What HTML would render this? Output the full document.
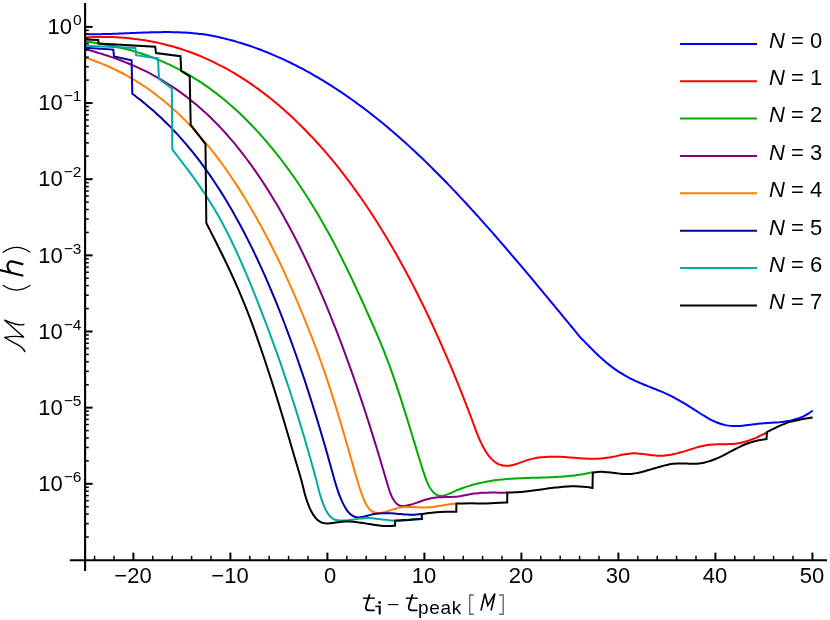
<!DOCTYPE html>
<html><head><meta charset="utf-8">
<style>
html,body{margin:0;padding:0;background:#fff;}
body{width:830px;height:620px;position:relative;overflow:hidden;font-family:"Liberation Sans",sans-serif;color:#000;}
svg{position:absolute;left:0;top:0;}
.yl,.xl,.lg,.pk{will-change:transform;}
.yl{position:absolute;left:0;width:81.5px;text-align:right;font-size:22px;line-height:24px;white-space:nowrap;}
.sup{font-size:15.5px;position:relative;top:-8.7px;margin-left:1px;line-height:0;}
.xl{position:absolute;top:564px;width:60px;text-align:center;font-size:22px;line-height:24px;white-space:nowrap;}
.lg{position:absolute;left:769px;font-size:22px;line-height:24px;white-space:nowrap;}
.pk{position:absolute;left:418px;top:596.5px;font-size:19px;line-height:22px;letter-spacing:0.7px;}
</style></head><body>
<svg width="830" height="620" viewBox="0 0 830 620">
<g fill="none" stroke-width="2" stroke-linejoin="miter" stroke-linecap="butt">
<path d="M85.00,34.10C85.67,34.11 87.67,34.16 89.00,34.17C90.33,34.19 91.67,34.20 93.00,34.20C94.33,34.21 95.67,34.20 97.00,34.19C98.33,34.18 99.67,34.17 101.00,34.15C102.33,34.13 103.67,34.10 105.00,34.07C106.33,34.04 107.67,34.01 109.00,33.97C110.33,33.93 111.67,33.89 113.00,33.84C114.33,33.80 115.67,33.75 117.00,33.70C118.33,33.65 119.67,33.60 121.00,33.54C122.33,33.49 123.67,33.43 125.00,33.37C126.33,33.32 127.67,33.26 129.00,33.20C130.33,33.14 131.67,33.08 133.00,33.03C134.33,32.97 135.67,32.91 137.00,32.85C138.33,32.80 139.67,32.74 141.00,32.69C142.33,32.64 143.67,32.59 145.00,32.54C146.33,32.49 147.67,32.44 149.00,32.40C150.33,32.36 151.67,32.32 153.00,32.28C154.33,32.25 155.67,32.22 157.00,32.19C158.33,32.17 159.67,32.14 161.00,32.13C162.33,32.11 163.67,32.10 165.00,32.10C166.33,32.09 167.67,32.10 169.00,32.11C170.33,32.11 171.67,32.13 173.00,32.15C174.33,32.18 175.67,32.21 177.00,32.25C178.33,32.29 179.67,32.34 181.00,32.39C182.33,32.45 183.67,32.52 185.00,32.59C186.33,32.67 187.67,32.75 189.00,32.85C190.33,32.94 191.67,33.05 193.00,33.17C194.33,33.29 195.67,33.41 197.00,33.56C198.33,33.70 199.17,33.77 201.00,34.01C202.83,34.26 206.17,34.71 208.00,35.00C209.83,35.29 210.67,35.50 212.00,35.76C213.33,36.02 214.67,36.30 216.00,36.58C217.33,36.86 218.67,37.16 220.00,37.46C221.33,37.76 222.67,38.08 224.00,38.40C225.33,38.73 226.67,39.06 228.00,39.40C229.33,39.75 230.67,40.10 232.00,40.46C233.33,40.83 234.67,41.20 236.00,41.59C237.33,41.97 238.67,42.36 240.00,42.77C241.33,43.17 242.67,43.58 244.00,44.01C245.33,44.43 246.67,44.86 248.00,45.31C249.33,45.75 250.67,46.20 252.00,46.67C253.33,47.13 254.67,47.60 256.00,48.08C257.33,48.57 258.67,49.06 260.00,49.56C261.33,50.06 262.67,50.58 264.00,51.10C265.33,51.62 266.67,52.15 268.00,52.69C269.33,53.24 270.67,53.79 272.00,54.35C273.33,54.91 274.67,55.48 276.00,56.06C277.33,56.64 278.67,57.23 280.00,57.84C281.33,58.44 282.67,59.05 284.00,59.67C285.33,60.29 286.67,60.92 288.00,61.56C289.33,62.20 290.67,62.85 292.00,63.51C293.33,64.17 294.67,64.83 296.00,65.51C297.33,66.19 298.67,66.88 300.00,67.58C301.33,68.28 302.67,68.98 304.00,69.70C305.33,70.42 306.67,71.15 308.00,71.88C309.33,72.62 310.67,73.37 312.00,74.12C313.33,74.88 314.67,75.65 316.00,76.42C317.33,77.20 318.67,77.98 320.00,78.78C321.33,79.57 322.67,80.38 324.00,81.19C325.33,82.01 326.67,82.83 328.00,83.67C329.33,84.50 330.67,85.34 332.00,86.20C333.33,87.05 334.67,87.91 336.00,88.78C337.33,89.65 338.67,90.54 340.00,91.43C341.33,92.32 342.67,93.22 344.00,94.13C345.33,95.04 346.67,95.96 348.00,96.89C349.33,97.82 350.67,98.76 352.00,99.71C353.33,100.66 354.67,101.61 356.00,102.58C357.33,103.55 358.67,104.53 360.00,105.51C361.33,106.50 362.67,107.50 364.00,108.50C365.33,109.51 366.67,110.52 368.00,111.55C369.33,112.57 370.67,113.61 372.00,114.65C373.33,115.69 374.67,116.75 376.00,117.81C377.33,118.87 378.67,119.94 380.00,121.02C381.33,122.11 382.67,123.20 384.00,124.30C385.33,125.40 386.67,126.51 388.00,127.63C389.33,128.75 390.67,129.87 392.00,131.01C393.33,132.15 394.67,133.30 396.00,134.45C397.33,135.61 398.67,136.78 400.00,137.95C401.33,139.13 402.67,140.31 404.00,141.51C405.33,142.70 406.67,143.90 408.00,145.12C409.33,146.33 410.67,147.55 412.00,148.78C413.33,150.02 414.67,151.26 416.00,152.51C417.33,153.76 418.67,155.02 420.00,156.29C421.33,157.55 422.67,158.83 424.00,160.12C425.33,161.40 426.67,162.70 428.00,164.00C429.33,165.31 430.67,166.62 432.00,167.94C433.33,169.26 434.67,170.59 436.00,171.93C437.33,173.26 438.67,174.61 440.00,175.96C441.33,177.31 442.67,178.67 444.00,180.04C445.33,181.41 446.67,182.79 448.00,184.17C449.33,185.55 450.67,186.94 452.00,188.34C453.33,189.74 454.67,191.15 456.00,192.56C457.33,193.97 458.67,195.39 460.00,196.81C461.33,198.24 462.67,199.67 464.00,201.11C465.33,202.55 466.67,204.00 468.00,205.45C469.33,206.90 470.67,208.36 472.00,209.82C473.33,211.28 474.67,212.75 476.00,214.23C477.33,215.71 478.67,217.19 480.00,218.67C481.33,220.16 482.67,221.65 484.00,223.15C485.33,224.65 486.67,226.15 488.00,227.66C489.33,229.17 490.67,230.68 492.00,232.20C493.33,233.72 494.67,235.24 496.00,236.77C497.33,238.30 498.67,239.83 500.00,241.37C501.33,242.90 502.67,244.44 504.00,245.99C505.33,247.53 506.67,249.08 508.00,250.64C509.33,252.19 510.67,253.75 512.00,255.31C513.33,256.87 514.67,258.43 516.00,260.00C517.33,261.57 518.67,263.14 520.00,264.71C521.33,266.29 522.67,267.87 524.00,269.45C525.33,271.03 526.67,272.61 528.00,274.20C529.33,275.78 530.67,277.37 532.00,278.97C533.33,280.56 534.67,282.15 536.00,283.75C537.33,285.35 538.67,286.94 540.00,288.55C541.33,290.15 542.67,291.75 544.00,293.35C545.33,294.96 546.67,296.57 548.00,298.17C549.33,299.78 550.67,301.39 552.00,303.00C553.33,304.61 554.67,306.23 556.00,307.84C557.33,309.45 558.67,311.07 560.00,312.69C561.33,314.30 562.67,315.92 564.00,317.54C565.33,319.15 566.67,320.77 568.00,322.39C569.33,324.01 570.67,325.63 572.00,327.25C573.33,328.86 574.62,330.42 576.00,332.10C577.38,333.78 578.92,335.78 580.30,337.32C581.68,338.87 582.97,340.02 584.30,341.39C585.63,342.76 586.97,344.16 588.30,345.52C589.63,346.88 590.97,348.23 592.30,349.55C593.63,350.87 594.97,352.18 596.30,353.46C597.63,354.73 598.97,355.99 600.30,357.20C601.63,358.42 602.97,359.61 604.30,360.76C605.63,361.91 606.97,363.03 608.30,364.10C609.63,365.18 610.97,366.21 612.30,367.20C613.63,368.19 614.97,369.14 616.30,370.06C617.63,370.98 618.97,371.85 620.30,372.70C621.63,373.55 622.97,374.35 624.30,375.13C625.63,375.91 626.97,376.65 628.30,377.37C629.63,378.09 630.97,378.77 632.30,379.44C633.63,380.10 634.97,380.73 636.30,381.34C637.63,381.95 638.97,382.54 640.30,383.11C641.63,383.68 642.97,384.23 644.30,384.78C645.63,385.33 646.97,385.86 648.30,386.39C649.63,386.92 650.97,387.44 652.30,387.97C653.63,388.50 654.97,389.02 656.30,389.55C657.63,390.09 658.97,390.63 660.30,391.18C661.63,391.74 662.97,392.30 664.30,392.88C665.63,393.47 666.97,394.07 668.30,394.70C669.63,395.32 670.97,395.97 672.30,396.65C673.63,397.33 674.97,398.04 676.30,398.77C677.63,399.50 678.97,400.26 680.30,401.03C681.63,401.81 682.97,402.60 684.30,403.41C685.63,404.21 686.97,405.04 688.30,405.87C689.63,406.70 690.97,407.54 692.30,408.39C693.63,409.23 694.97,410.09 696.30,410.93C697.63,411.78 698.97,412.64 700.30,413.48C701.63,414.31 702.97,415.15 704.30,415.95C705.63,416.75 706.97,417.54 708.30,418.29C709.63,419.03 710.97,419.75 712.30,420.41C713.63,421.08 714.97,421.70 716.30,422.26C717.63,422.82 718.97,423.33 720.30,423.77C721.63,424.20 722.97,424.57 724.30,424.88C725.63,425.19 726.97,425.43 728.30,425.62C729.63,425.80 730.97,425.93 732.30,426.00C733.63,426.08 734.97,426.09 736.30,426.07C737.63,426.05 738.97,425.97 740.30,425.88C741.63,425.78 742.97,425.64 744.30,425.50C745.63,425.35 746.97,425.18 748.30,425.00C749.63,424.83 750.97,424.64 752.30,424.46C753.63,424.29 754.97,424.10 756.30,423.95C757.63,423.79 758.97,423.65 760.30,423.52C761.63,423.40 762.97,423.30 764.30,423.21C765.63,423.11 766.97,423.04 768.30,422.96C769.63,422.88 770.97,422.81 772.30,422.73C773.63,422.64 774.97,422.56 776.30,422.46C777.63,422.36 778.97,422.26 780.30,422.12C781.63,421.99 782.97,421.84 784.30,421.66C785.63,421.48 786.97,421.27 788.30,421.02C789.63,420.77 790.97,420.49 792.30,420.16C793.63,419.83 794.97,419.46 796.30,419.04C797.63,418.61 798.97,418.14 800.30,417.59C801.63,417.05 802.97,416.46 804.30,415.79C805.63,415.12 806.90,414.43 808.30,413.57C809.70,412.70 811.97,411.09 812.70,410.60" stroke="#0000ff"/>
<path d="M85.00,37.43C85.67,37.40 87.67,37.28 89.00,37.22C90.33,37.16 91.67,37.11 93.00,37.07C94.33,37.02 95.67,36.99 97.00,36.96C98.33,36.94 99.67,36.92 101.00,36.92C102.33,36.91 103.67,36.91 105.00,36.93C106.33,36.94 107.67,36.96 109.00,36.99C110.33,37.03 111.67,37.07 113.00,37.12C114.33,37.17 115.67,37.23 117.00,37.30C118.33,37.37 119.67,37.45 121.00,37.54C122.33,37.63 123.67,37.73 125.00,37.85C126.33,37.96 127.67,38.08 129.00,38.21C130.33,38.34 131.67,38.49 133.00,38.64C134.33,38.79 135.67,38.96 137.00,39.13C138.33,39.31 139.67,39.49 141.00,39.69C142.33,39.88 143.67,40.09 145.00,40.31C146.33,40.53 147.67,40.76 149.00,41.00C150.33,41.24 151.67,41.49 153.00,41.75C154.33,42.01 155.67,42.29 157.00,42.57C158.33,42.86 159.67,43.16 161.00,43.47C162.33,43.78 163.67,44.10 165.00,44.43C166.33,44.76 167.67,45.11 169.00,45.47C170.33,45.82 171.67,46.19 173.00,46.57C174.33,46.95 175.67,47.35 177.00,47.75C178.33,48.16 179.67,48.58 181.00,49.01C182.33,49.44 183.67,49.88 185.00,50.33C186.33,50.79 187.67,51.26 189.00,51.74C190.33,52.22 191.67,52.71 193.00,53.22C194.33,53.73 195.67,54.25 197.00,54.78C198.33,55.31 199.67,55.86 201.00,56.42C202.33,56.98 203.67,57.55 205.00,58.14C206.33,58.72 207.67,59.32 209.00,59.94C210.33,60.55 211.67,61.18 213.00,61.82C214.33,62.46 215.67,63.11 217.00,63.78C218.33,64.45 219.67,65.13 221.00,65.83C222.33,66.52 223.67,67.23 225.00,67.96C226.33,68.68 227.67,69.42 229.00,70.17C230.33,70.93 231.67,71.70 233.00,72.48C234.33,73.26 235.67,74.06 237.00,74.87C238.33,75.68 239.67,76.51 241.00,77.35C242.33,78.19 243.67,79.04 245.00,79.92C246.33,80.79 247.67,81.67 249.00,82.57C250.33,83.48 251.67,84.39 253.00,85.32C254.33,86.26 255.67,87.20 257.00,88.17C258.33,89.13 259.67,90.11 261.00,91.10C262.33,92.10 263.67,93.11 265.00,94.13C266.33,95.16 267.67,96.20 269.00,97.25C270.33,98.31 271.67,99.39 273.00,100.47C274.33,101.56 275.67,102.67 277.00,103.79C278.33,104.91 279.67,106.05 281.00,107.21C282.33,108.36 283.67,109.53 285.00,110.72C286.33,111.91 287.67,113.11 289.00,114.33C290.33,115.55 291.67,116.79 293.00,118.05C294.33,119.30 295.67,120.57 297.00,121.86C298.33,123.15 299.67,124.46 301.00,125.78C302.33,127.11 303.67,128.45 305.00,129.80C306.33,131.16 307.67,132.54 309.00,133.93C310.33,135.32 311.67,136.73 313.00,138.16C314.33,139.59 315.67,141.04 317.00,142.50C318.33,143.97 319.67,145.45 321.00,146.95C322.33,148.45 323.67,149.97 325.00,151.51C326.33,153.05 327.67,154.60 329.00,156.18C330.33,157.76 331.67,159.36 333.00,160.97C334.33,162.59 335.67,164.22 337.00,165.88C338.33,167.54 339.67,169.21 341.00,170.91C342.33,172.61 343.67,174.33 345.00,176.07C346.33,177.81 347.67,179.57 349.00,181.35C350.33,183.13 351.67,184.93 353.00,186.76C354.33,188.58 355.67,190.43 357.00,192.30C358.33,194.17 359.67,196.06 361.00,197.98C362.33,199.89 363.67,201.83 365.00,203.79C366.33,205.75 367.67,207.74 369.00,209.75C370.33,211.75 371.67,213.79 373.00,215.84C374.33,217.90 375.67,219.98 377.00,222.08C378.33,224.19 379.67,226.31 381.00,228.47C382.33,230.62 383.67,232.80 385.00,235.00C386.33,237.21 387.67,239.44 389.00,241.69C390.33,243.95 391.67,246.23 393.00,248.54C394.33,250.84 395.67,253.18 397.00,255.54C398.33,257.90 399.67,260.28 401.00,262.70C402.33,265.11 403.67,267.55 405.00,270.02C406.33,272.49 407.67,274.98 409.00,277.51C410.33,280.03 411.67,282.58 413.00,285.16C414.33,287.74 415.67,290.35 417.00,292.99C418.33,295.63 419.67,298.30 421.00,300.99C422.33,303.69 423.67,306.42 425.00,309.17C426.33,311.93 427.67,314.72 429.00,317.54C430.33,320.36 431.67,323.21 433.00,326.09C434.33,328.97 435.67,331.88 437.00,334.82C438.33,337.77 439.67,340.74 441.00,343.75C442.33,346.76 443.67,349.80 445.00,352.88C446.33,355.95 447.67,359.06 449.00,362.20C450.33,365.34 451.67,368.52 453.00,371.73C454.33,374.94 455.67,378.18 457.00,381.46C458.33,384.73 459.67,388.05 461.00,391.39C462.33,394.74 463.67,398.13 465.00,401.55C466.33,404.96 467.67,408.42 469.00,411.91C470.33,415.40 471.67,418.93 473.00,422.50C474.33,426.06 475.67,429.94 477.00,433.30C478.33,436.67 479.67,439.87 481.00,442.69C482.33,445.51 483.67,448.00 485.00,450.23C486.33,452.46 487.67,454.38 489.00,456.07C490.33,457.76 491.67,459.17 493.00,460.38C494.33,461.59 495.67,462.54 497.00,463.32C498.33,464.10 499.67,464.66 501.00,465.07C502.33,465.48 503.67,465.69 505.00,465.79C506.33,465.90 507.67,465.83 509.00,465.69C510.33,465.55 511.67,465.27 513.00,464.95C514.33,464.63 515.67,464.21 517.00,463.78C518.33,463.35 519.67,462.84 521.00,462.37C522.33,461.89 523.67,461.38 525.00,460.92C526.33,460.47 527.67,460.02 529.00,459.64C530.33,459.25 531.67,458.92 533.00,458.61C534.33,458.31 535.67,458.06 537.00,457.83C538.33,457.61 539.67,457.42 541.00,457.27C542.33,457.11 543.67,456.99 545.00,456.90C546.33,456.80 547.67,456.74 549.00,456.69C550.33,456.65 551.67,456.64 553.00,456.64C554.33,456.64 555.67,456.66 557.00,456.70C558.33,456.74 559.67,456.80 561.00,456.86C562.33,456.93 563.67,457.01 565.00,457.10C566.33,457.18 567.67,457.28 569.00,457.38C570.33,457.48 571.67,457.58 573.00,457.68C574.33,457.79 575.67,457.89 577.00,457.99C578.33,458.09 579.67,458.19 581.00,458.27C582.33,458.36 583.67,458.44 585.00,458.51C586.33,458.57 587.67,458.63 589.00,458.67C590.33,458.71 591.67,458.73 593.00,458.73C594.33,458.73 595.67,458.72 597.00,458.67C598.33,458.63 599.67,458.57 601.00,458.47C602.33,458.38 603.67,458.26 605.00,458.10C606.33,457.94 607.67,457.75 609.00,457.53C610.33,457.31 611.67,457.05 613.00,456.78C614.33,456.51 615.67,456.21 617.00,455.92C618.33,455.63 619.67,455.32 621.00,455.05C622.33,454.77 623.67,454.50 625.00,454.27C626.33,454.04 627.67,453.82 629.00,453.67C630.33,453.52 631.67,453.40 633.00,453.36C634.33,453.31 635.67,453.34 637.00,453.40C638.33,453.47 639.67,453.60 641.00,453.74C642.33,453.88 643.67,454.08 645.00,454.26C646.33,454.44 647.67,454.65 649.00,454.84C650.33,455.02 651.67,455.21 653.00,455.36C654.33,455.51 655.67,455.64 657.00,455.71C658.33,455.78 659.67,455.81 661.00,455.78C662.33,455.75 663.67,455.66 665.00,455.54C666.33,455.41 667.67,455.23 669.00,455.02C670.33,454.81 671.67,454.56 673.00,454.28C674.33,454.00 675.67,453.68 677.00,453.35C678.33,453.01 679.67,452.65 681.00,452.27C682.33,451.90 683.67,451.50 685.00,451.10C686.33,450.70 687.67,450.28 689.00,449.86C690.33,449.45 691.67,449.02 693.00,448.61C694.33,448.20 695.67,447.79 697.00,447.41C698.33,447.03 699.67,446.65 701.00,446.32C702.33,445.98 703.67,445.67 705.00,445.41C706.33,445.15 707.67,444.93 709.00,444.76C710.33,444.59 711.67,444.48 713.00,444.39C714.33,444.30 715.67,444.26 717.00,444.23C718.33,444.20 719.67,444.20 721.00,444.19C722.33,444.18 723.67,444.20 725.00,444.19C726.33,444.17 727.67,444.17 729.00,444.12C730.33,444.08 731.67,444.02 733.00,443.91C734.33,443.80 735.67,443.66 737.00,443.46C738.33,443.27 739.67,443.02 741.00,442.74C742.33,442.45 743.67,442.12 745.00,441.75C746.33,441.38 747.67,440.96 749.00,440.51C750.33,440.06 751.67,439.57 753.00,439.04C754.33,438.51 755.67,437.94 757.00,437.35C758.33,436.75 759.28,436.33 761.00,435.45C762.72,434.58 766.25,432.65 767.30,432.09" stroke="#ff0000"/>
<path d="M85.00,41.60C85.67,41.68 87.67,41.91 89.00,42.08C90.33,42.25 91.67,42.43 93.00,42.61C94.33,42.79 95.67,42.99 97.00,43.19C98.33,43.39 99.67,43.60 101.00,43.82C102.33,44.04 103.67,44.27 105.00,44.50C106.33,44.74 107.67,44.99 109.00,45.24C110.33,45.50 111.67,45.76 113.00,46.04C114.33,46.31 115.67,46.60 117.00,46.90C118.33,47.19 119.67,47.50 121.00,47.81C122.33,48.13 123.67,48.46 125.00,48.80C126.33,49.13 127.67,49.48 129.00,49.84C130.33,50.20 131.67,50.57 133.00,50.96C134.33,51.34 135.67,51.74 137.00,52.14C138.33,52.55 139.67,52.97 141.00,53.40C142.33,53.84 143.67,54.28 145.00,54.74C146.33,55.19 147.67,55.66 149.00,56.15C150.33,56.63 151.67,57.12 153.00,57.63C154.33,58.14 155.67,58.67 157.00,59.20C158.33,59.74 159.67,60.29 161.00,60.85C162.33,61.42 163.67,62.00 165.00,62.59C166.33,63.19 167.67,63.79 169.00,64.42C170.33,65.04 171.67,65.68 173.00,66.33C174.33,66.98 175.67,67.65 177.00,68.33C178.33,69.02 179.67,69.72 181.00,70.43C182.33,71.15 183.67,71.88 185.00,72.63C186.33,73.37 187.67,74.14 189.00,74.92C190.33,75.70 191.67,76.50 193.00,77.31C194.33,78.13 195.67,78.96 197.00,79.81C198.33,80.65 199.67,81.52 201.00,82.40C202.33,83.29 203.67,84.19 205.00,85.11C206.33,86.03 207.67,86.96 209.00,87.92C210.33,88.88 211.67,89.85 213.00,90.84C214.33,91.84 215.67,92.85 217.00,93.88C218.33,94.91 219.67,95.96 221.00,97.03C222.33,98.10 223.67,99.19 225.00,100.30C226.33,101.41 227.67,102.54 229.00,103.68C230.33,104.83 231.67,106.00 233.00,107.19C234.33,108.38 235.67,109.59 237.00,110.82C238.33,112.05 239.67,113.31 241.00,114.58C242.33,115.85 243.67,117.15 245.00,118.46C246.33,119.78 247.67,121.12 249.00,122.48C250.33,123.84 251.67,125.22 253.00,126.62C254.33,128.03 255.67,129.45 257.00,130.90C258.33,132.35 259.67,133.82 261.00,135.32C262.33,136.81 263.67,138.33 265.00,139.87C266.33,141.41 267.67,142.97 269.00,144.56C270.33,146.15 271.67,147.76 273.00,149.40C274.33,151.03 275.67,152.69 277.00,154.38C278.33,156.06 279.67,157.77 281.00,159.51C282.33,161.24 283.67,163.00 285.00,164.78C286.33,166.57 287.67,168.37 289.00,170.21C290.33,172.04 291.67,173.91 293.00,175.79C294.33,177.68 295.67,179.60 297.00,181.54C298.33,183.48 299.67,185.45 301.00,187.45C302.33,189.45 303.67,191.48 305.00,193.53C306.33,195.59 307.67,197.68 309.00,199.79C310.33,201.91 311.67,204.05 313.00,206.23C314.33,208.40 315.67,210.61 317.00,212.85C318.33,215.09 319.67,217.35 321.00,219.66C322.33,221.96 323.67,224.29 325.00,226.66C326.33,229.02 327.67,231.42 329.00,233.85C330.33,236.29 331.67,238.75 333.00,241.25C334.33,243.75 335.67,246.29 337.00,248.86C338.33,251.43 339.67,254.03 341.00,256.67C342.33,259.31 343.67,261.99 345.00,264.69C346.33,267.40 347.67,270.14 349.00,272.91C350.33,275.67 351.67,278.47 353.00,281.29C354.33,284.12 355.67,286.97 357.00,289.84C358.33,292.71 359.67,295.61 361.00,298.52C362.33,301.43 363.67,304.37 365.00,307.32C366.33,310.27 367.67,313.24 369.00,316.23C370.33,319.21 371.67,322.20 373.00,325.23C374.33,328.25 375.67,331.29 377.00,334.40C378.33,337.51 379.67,340.65 381.00,343.87C382.33,347.10 383.67,350.38 385.00,353.78C386.33,357.17 387.67,360.63 389.00,364.23C390.33,367.82 391.67,371.53 393.00,375.34C394.33,379.15 395.67,383.08 397.00,387.08C398.33,391.07 399.67,395.17 401.00,399.32C402.33,403.47 403.67,407.71 405.00,411.97C406.33,416.24 407.67,420.57 409.00,424.91C410.33,429.25 411.67,433.64 413.00,438.01C414.33,442.37 415.35,445.76 417.00,451.09C418.65,456.43 421.25,464.92 422.90,470.01C424.55,475.10 425.57,478.42 426.90,481.64C428.23,484.85 429.57,487.29 430.90,489.30C432.23,491.31 433.57,492.66 434.90,493.71C436.23,494.76 437.57,495.27 438.90,495.60C440.23,495.93 441.57,495.86 442.90,495.70C444.23,495.54 445.57,495.09 446.90,494.64C448.23,494.18 449.57,493.54 450.90,492.96C452.23,492.39 453.57,491.76 454.90,491.19C456.23,490.62 457.57,490.07 458.90,489.54C460.23,489.01 461.57,488.50 462.90,488.02C464.23,487.53 465.57,487.07 466.90,486.63C468.23,486.19 469.57,485.77 470.90,485.37C472.23,484.97 473.57,484.60 474.90,484.24C476.23,483.89 477.57,483.56 478.90,483.24C480.23,482.93 481.57,482.63 482.90,482.36C484.23,482.08 485.57,481.82 486.90,481.58C488.23,481.34 489.57,481.11 490.90,480.90C492.23,480.69 493.57,480.50 494.90,480.32C496.23,480.14 497.57,479.97 498.90,479.82C500.23,479.67 501.57,479.53 502.90,479.40C504.23,479.27 505.57,479.15 506.90,479.04C508.23,478.93 509.57,478.84 510.90,478.75C512.23,478.66 513.57,478.57 514.90,478.50C516.23,478.43 517.57,478.36 518.90,478.30C520.23,478.24 521.57,478.18 522.90,478.13C524.23,478.08 525.57,478.03 526.90,477.99C528.23,477.95 529.57,477.91 530.90,477.87C532.23,477.83 533.57,477.79 534.90,477.76C536.23,477.72 537.57,477.69 538.90,477.65C540.23,477.61 541.57,477.57 542.90,477.53C544.23,477.49 545.57,477.45 546.90,477.40C548.23,477.35 549.57,477.30 550.90,477.25C552.23,477.19 553.57,477.13 554.90,477.06C556.23,477.00 557.57,476.92 558.90,476.84C560.23,476.76 561.57,476.67 562.90,476.57C564.23,476.47 565.57,476.36 566.90,476.24C568.23,476.12 569.57,475.99 570.90,475.85C572.23,475.71 573.57,475.56 574.90,475.39C576.23,475.22 577.57,475.04 578.90,474.85C580.23,474.65 581.57,474.44 582.90,474.22C584.23,473.99 585.30,473.81 586.90,473.49C588.50,473.17 591.57,472.49 592.50,472.29" stroke="#00aa00"/>
<path d="M85.00,48.98C85.67,49.17 87.67,49.72 89.00,50.09C90.33,50.47 91.67,50.85 93.00,51.24C94.33,51.62 95.67,52.02 97.00,52.42C98.33,52.82 99.67,53.23 101.00,53.64C102.33,54.06 103.67,54.48 105.00,54.92C106.33,55.35 107.67,55.79 109.00,56.24C110.33,56.69 111.67,57.14 113.00,57.61C114.33,58.08 115.67,58.56 117.00,59.04C118.33,59.53 119.67,60.03 121.00,60.53C122.33,61.04 123.67,61.56 125.00,62.09C126.33,62.62 127.67,63.16 129.00,63.71C130.33,64.27 131.67,64.83 133.00,65.41C134.33,65.99 135.67,66.58 137.00,67.18C138.33,67.78 139.67,68.40 141.00,69.03C142.33,69.66 143.67,70.30 145.00,70.96C146.33,71.62 147.67,72.29 149.00,72.98C150.33,73.67 151.67,74.37 153.00,75.09C154.33,75.80 155.67,76.54 157.00,77.29C158.33,78.04 159.67,78.80 161.00,79.58C162.33,80.37 163.67,81.17 165.00,81.98C166.33,82.80 167.67,83.63 169.00,84.49C170.33,85.34 171.67,86.21 173.00,87.10C174.33,87.99 175.67,88.89 177.00,89.82C178.33,90.75 179.67,91.69 181.00,92.66C182.33,93.62 183.67,94.61 185.00,95.61C186.33,96.62 187.67,97.65 189.00,98.69C190.33,99.74 191.67,100.81 193.00,101.90C194.33,102.99 195.67,104.10 197.00,105.24C198.33,106.37 199.67,107.53 201.00,108.71C202.33,109.88 203.67,111.09 205.00,112.31C206.33,113.54 207.67,114.79 209.00,116.06C210.33,117.33 211.67,118.63 213.00,119.95C214.33,121.27 215.67,122.62 217.00,123.99C218.33,125.36 219.67,126.76 221.00,128.18C222.33,129.61 223.67,131.06 225.00,132.53C226.33,134.01 227.67,135.51 229.00,137.04C230.33,138.57 231.67,140.12 233.00,141.71C234.33,143.29 235.67,144.90 237.00,146.54C238.33,148.18 239.67,149.85 241.00,151.55C242.33,153.25 243.67,154.97 245.00,156.73C246.33,158.48 247.67,160.27 249.00,162.09C250.33,163.90 251.67,165.75 253.00,167.62C254.33,169.50 255.67,171.41 257.00,173.35C258.33,175.29 259.67,177.26 261.00,179.26C262.33,181.26 263.67,183.29 265.00,185.36C266.33,187.43 267.67,189.53 269.00,191.66C270.33,193.79 271.67,195.96 273.00,198.16C274.33,200.36 275.67,202.59 277.00,204.86C278.33,207.13 279.67,209.43 281.00,211.77C282.33,214.11 283.67,216.48 285.00,218.89C286.33,221.29 287.67,223.74 289.00,226.22C290.33,228.70 291.67,231.21 293.00,233.77C294.33,236.32 295.67,238.91 297.00,241.54C298.33,244.17 299.67,246.83 301.00,249.54C302.33,252.24 303.67,254.98 305.00,257.76C306.33,260.54 307.67,263.36 309.00,266.22C310.33,269.07 311.67,271.97 313.00,274.91C314.33,277.85 315.67,280.82 317.00,283.84C318.33,286.86 319.67,289.92 321.00,293.02C322.33,296.11 323.67,299.26 325.00,302.44C326.33,305.62 327.67,308.84 329.00,312.11C330.33,315.38 331.67,318.68 333.00,322.04C334.33,325.39 335.67,328.78 337.00,332.22C338.33,335.66 339.67,339.14 341.00,342.67C342.33,346.19 343.67,349.76 345.00,353.38C346.33,356.99 347.67,360.65 349.00,364.36C350.33,368.06 351.67,371.81 353.00,375.61C354.33,379.40 355.67,383.25 357.00,387.14C358.33,391.03 359.67,394.96 361.00,398.94C362.33,402.93 363.67,406.96 365.00,411.03C366.33,415.11 367.67,419.24 369.00,423.41C370.33,427.59 371.67,431.81 373.00,436.08C374.33,440.35 375.67,444.67 377.00,449.04C378.33,453.41 379.47,457.15 381.00,462.30C382.53,467.46 384.67,474.91 386.20,479.99C387.73,485.08 388.87,489.34 390.20,492.81C391.53,496.28 392.87,498.80 394.20,500.81C395.53,502.82 396.87,503.99 398.20,504.87C399.53,505.75 400.87,505.96 402.20,506.10C403.53,506.25 404.87,505.95 406.20,505.74C407.53,505.52 408.87,505.16 410.20,504.80C411.53,504.44 412.87,504.01 414.20,503.58C415.53,503.15 416.87,502.67 418.20,502.21C419.53,501.74 420.87,501.25 422.20,500.80C423.53,500.35 424.87,499.90 426.20,499.51C427.53,499.12 428.87,498.74 430.20,498.45C431.53,498.15 432.87,497.92 434.20,497.73C435.53,497.55 436.87,497.43 438.20,497.33C439.53,497.23 440.87,497.19 442.20,497.14C443.53,497.10 444.87,497.09 446.20,497.06C447.53,497.04 448.87,497.03 450.20,496.99C451.53,496.95 452.87,496.91 454.20,496.82C455.53,496.73 456.87,496.62 458.20,496.45C459.53,496.28 460.87,496.05 462.20,495.81C463.53,495.57 464.87,495.28 466.20,495.01C467.53,494.74 468.87,494.45 470.20,494.21C471.53,493.97 472.87,493.75 474.20,493.57C475.53,493.39 476.87,493.25 478.20,493.13C479.53,493.01 480.87,492.92 482.20,492.84C483.53,492.77 484.87,492.72 486.20,492.68C487.53,492.65 488.87,492.63 490.20,492.62C491.53,492.61 492.87,492.61 494.20,492.61C495.53,492.62 496.87,492.63 498.20,492.63C499.53,492.64 500.68,492.65 502.20,492.65C503.72,492.64 506.45,492.61 507.30,492.60" stroke="#800080"/>
<path d="M85.00,57.53C85.67,57.75 87.67,58.41 89.00,58.87C90.33,59.33 91.67,59.80 93.00,60.28C94.33,60.77 95.67,61.26 97.00,61.77C98.33,62.28 99.67,62.81 101.00,63.34C102.33,63.88 103.67,64.43 105.00,65.00C106.33,65.56 107.67,66.14 109.00,66.74C110.33,67.33 111.67,67.94 113.00,68.57C114.33,69.19 115.67,69.83 117.00,70.49C118.33,71.14 119.67,71.82 121.00,72.50C122.33,73.19 123.67,73.90 125.00,74.62C126.33,75.34 127.67,76.08 129.00,76.83C130.33,77.59 131.67,78.36 133.00,79.15C134.33,79.94 135.67,80.75 137.00,81.58C138.33,82.41 139.67,83.25 141.00,84.12C142.33,84.98 143.67,85.86 145.00,86.76C146.33,87.67 147.67,88.59 149.00,89.53C150.33,90.47 151.67,91.43 153.00,92.41C154.33,93.39 155.67,94.40 157.00,95.42C158.33,96.44 159.67,97.48 161.00,98.55C162.33,99.61 163.67,100.70 165.00,101.81C166.33,102.91 167.67,104.04 169.00,105.19C170.33,106.35 171.67,107.52 173.00,108.72C174.33,109.91 175.67,111.13 177.00,112.38C178.33,113.62 179.67,114.88 181.00,116.17C182.33,117.46 183.67,118.78 185.00,120.11C186.33,121.45 187.67,122.81 189.00,124.20C190.33,125.59 191.67,127.00 193.00,128.43C194.33,129.87 195.67,131.33 197.00,132.82C198.33,134.31 199.67,135.82 201.00,137.36C202.33,138.90 203.67,140.47 205.00,142.06C206.33,143.65 207.67,145.27 209.00,146.92C210.33,148.56 211.67,150.24 213.00,151.94C214.33,153.64 215.67,155.37 217.00,157.13C218.33,158.88 219.67,160.67 221.00,162.48C222.33,164.30 223.67,166.14 225.00,168.01C226.33,169.89 227.67,171.79 229.00,173.72C230.33,175.65 231.67,177.61 233.00,179.60C234.33,181.59 235.67,183.61 237.00,185.66C238.33,187.72 239.67,189.80 241.00,191.91C242.33,194.03 243.67,196.17 245.00,198.35C246.33,200.52 247.67,202.73 249.00,204.97C250.33,207.21 251.67,209.48 253.00,211.79C254.33,214.09 255.67,216.43 257.00,218.80C258.33,221.18 259.67,223.58 261.00,226.02C262.33,228.46 263.67,230.93 265.00,233.44C266.33,235.95 267.67,238.50 269.00,241.08C270.33,243.66 271.67,246.28 273.00,248.93C274.33,251.58 275.67,254.27 277.00,257.00C278.33,259.73 279.67,262.49 281.00,265.29C282.33,268.10 283.67,270.94 285.00,273.82C286.33,276.70 287.67,279.61 289.00,282.57C290.33,285.53 291.67,288.53 293.00,291.57C294.33,294.61 295.67,297.69 297.00,300.81C298.33,303.93 299.67,307.09 301.00,310.30C302.33,313.50 303.67,316.74 305.00,320.03C306.33,323.32 307.67,326.65 309.00,330.04C310.33,333.42 311.67,336.84 313.00,340.33C314.33,343.82 315.67,347.36 317.00,350.97C318.33,354.58 319.67,358.24 321.00,361.98C322.33,365.72 323.67,369.52 325.00,373.41C326.33,377.29 327.67,381.25 329.00,385.29C330.33,389.34 331.67,393.46 333.00,397.67C334.33,401.89 335.67,406.20 337.00,410.57C338.33,414.94 339.67,419.40 341.00,423.90C342.33,428.40 343.67,432.97 345.00,437.55C346.33,442.14 347.67,446.78 349.00,451.41C350.33,456.05 351.63,460.61 353.00,465.38C354.37,470.14 355.83,475.48 357.20,480.02C358.57,484.57 359.87,488.89 361.20,492.64C362.53,496.39 363.87,499.82 365.20,502.54C366.53,505.26 367.87,507.38 369.20,508.96C370.53,510.54 371.87,511.33 373.20,512.01C374.53,512.68 375.87,512.85 377.20,513.00C378.53,513.15 379.87,513.05 381.20,512.90C382.53,512.75 383.87,512.42 385.20,512.07C386.53,511.72 387.87,511.25 389.20,510.81C390.53,510.36 391.87,509.85 393.20,509.41C394.53,508.97 395.87,508.52 397.20,508.18C398.53,507.84 399.87,507.58 401.20,507.38C402.53,507.18 403.87,507.06 405.20,506.98C406.53,506.90 407.87,506.89 409.20,506.90C410.53,506.90 411.87,506.95 413.20,507.01C414.53,507.06 415.87,507.14 417.20,507.21C418.53,507.28 419.87,507.36 421.20,507.40C422.53,507.44 423.87,507.48 425.20,507.47C426.53,507.45 427.87,507.40 429.20,507.31C430.53,507.21 431.87,507.07 433.20,506.91C434.53,506.74 435.87,506.54 437.20,506.33C438.53,506.13 439.87,505.89 441.20,505.66C442.53,505.44 443.87,505.19 445.20,504.97C446.53,504.76 447.87,504.53 449.20,504.34C450.53,504.16 452.00,503.97 453.20,503.85C454.40,503.72 455.87,503.64 456.40,503.60" stroke="#ff8000"/>
<path d="M85.00,47.70L113.30,49.60L114.00,56.50L131.60,60.30L132.30,93.68C132.97,94.19 134.97,95.69 136.30,96.72C137.63,97.74 138.97,98.78 140.30,99.84C141.63,100.90 142.97,101.98 144.30,103.07C145.63,104.17 146.97,105.28 148.30,106.41C149.63,107.54 150.97,108.68 152.30,109.85C153.63,111.02 154.97,112.20 156.30,113.41C157.63,114.62 158.97,115.85 160.30,117.09C161.63,118.34 162.97,119.61 164.30,120.91C165.63,122.20 166.97,123.51 168.30,124.85C169.63,126.19 170.97,127.55 172.30,128.94C173.63,130.32 174.97,131.73 176.30,133.16C177.63,134.60 178.97,136.06 180.30,137.55C181.63,139.03 182.97,140.54 184.30,142.08C185.63,143.62 186.97,145.19 188.30,146.78C189.63,148.38 190.97,150.00 192.30,151.65C193.63,153.30 194.97,154.98 196.30,156.69C197.63,158.40 198.97,160.14 200.30,161.91C201.63,163.68 202.97,165.48 204.30,167.31C205.63,169.15 206.97,171.01 208.30,172.91C209.63,174.81 210.97,176.73 212.30,178.70C213.63,180.66 214.97,182.66 216.30,184.69C217.63,186.73 218.97,188.79 220.30,190.89C221.63,193.00 222.97,195.13 224.30,197.31C225.63,199.48 226.97,201.69 228.30,203.94C229.63,206.19 230.97,208.48 232.30,210.80C233.63,213.13 234.97,215.49 236.30,217.89C237.63,220.29 238.97,222.73 240.30,225.21C241.63,227.70 242.97,230.22 244.30,232.78C245.63,235.34 246.97,237.95 248.30,240.60C249.63,243.24 250.97,245.93 252.30,248.66C253.63,251.40 254.97,254.17 256.30,256.99C257.63,259.81 258.97,262.67 260.30,265.58C261.63,268.49 262.97,271.44 264.30,274.44C265.63,277.44 266.97,280.49 268.30,283.58C269.63,286.67 270.97,289.81 272.30,293.00C273.63,296.19 274.97,299.42 276.30,302.71C277.63,305.99 278.97,309.32 280.30,312.71C281.63,316.09 282.97,319.52 284.30,323.00C285.63,326.49 286.97,330.02 288.30,333.61C289.63,337.19 290.97,340.83 292.30,344.52C293.63,348.21 294.97,351.95 296.30,355.75C297.63,359.54 298.97,363.39 300.30,367.30C301.63,371.20 302.97,375.16 304.30,379.18C305.63,383.19 306.97,387.26 308.30,391.39C309.63,395.51 310.97,399.69 312.30,403.93C313.63,408.17 314.97,412.47 316.30,416.83C317.63,421.18 318.97,425.60 320.30,430.07C321.63,434.54 322.97,439.08 324.30,443.67C325.63,448.26 326.60,451.58 328.30,457.63C330.00,463.68 332.80,474.17 334.50,480.00C336.20,485.82 337.17,488.85 338.50,492.58C339.83,496.31 341.17,499.55 342.50,502.38C343.83,505.22 345.17,507.59 346.50,509.58C347.83,511.56 349.17,513.11 350.50,514.31C351.83,515.52 353.17,516.27 354.50,516.79C355.83,517.31 357.17,517.43 358.50,517.46C359.83,517.48 361.17,517.21 362.50,516.96C363.83,516.72 365.17,516.32 366.50,515.98C367.83,515.63 369.17,515.21 370.50,514.88C371.83,514.55 373.17,514.23 374.50,513.99C375.83,513.74 377.17,513.57 378.50,513.44C379.83,513.30 381.17,513.23 382.50,513.18C383.83,513.14 385.17,513.14 386.50,513.16C387.83,513.18 389.17,513.25 390.50,513.32C391.83,513.39 393.17,513.49 394.50,513.59C395.83,513.69 397.17,513.81 398.50,513.92C399.83,514.03 401.17,514.15 402.50,514.25C403.83,514.35 405.17,514.45 406.50,514.52C407.83,514.59 409.17,514.65 410.50,514.67C411.83,514.69 413.17,514.68 414.50,514.63C415.83,514.58 417.27,514.48 418.50,514.36C419.73,514.24 421.33,513.97 421.90,513.89" stroke="#0000aa"/>
<path d="M85.00,45.80L135.30,47.90L136.20,55.20L158.00,58.40L159.00,79.10L171.80,88.50L172.30,149.30C172.97,150.17 174.97,152.79 176.30,154.53C177.63,156.28 178.97,158.02 180.30,159.77C181.63,161.52 182.97,163.27 184.30,165.04C185.63,166.81 186.97,168.58 188.30,170.37C189.63,172.17 190.97,173.97 192.30,175.80C193.63,177.64 194.97,179.48 196.30,181.37C197.63,183.25 198.97,185.15 200.30,187.09C201.63,189.03 202.97,191.00 204.30,193.02C205.63,195.03 206.97,197.07 208.30,199.17C209.63,201.27 210.97,203.40 212.30,205.59C213.63,207.78 214.97,210.01 216.30,212.30C217.63,214.60 218.97,216.94 220.30,219.35C221.63,221.76 222.97,224.23 224.30,226.76C225.63,229.30 226.97,231.90 228.30,234.56C229.63,237.22 230.97,239.94 232.30,242.72C233.63,245.50 234.97,248.34 236.30,251.24C237.63,254.13 238.97,257.08 240.30,260.08C241.63,263.08 242.97,266.13 244.30,269.23C245.63,272.33 246.97,275.48 248.30,278.67C249.63,281.86 250.97,285.10 252.30,288.38C253.63,291.65 254.97,294.98 256.30,298.33C257.63,301.69 258.97,305.08 260.30,308.51C261.63,311.94 262.97,315.40 264.30,318.90C265.63,322.39 266.97,325.92 268.30,329.49C269.63,333.06 270.97,336.66 272.30,340.30C273.63,343.95 274.97,347.63 276.30,351.37C277.63,355.10 278.97,358.87 280.30,362.70C281.63,366.52 282.97,370.39 284.30,374.31C285.63,378.24 286.97,382.21 288.30,386.24C289.63,390.27 290.97,394.36 292.30,398.50C293.63,402.64 294.97,406.84 296.30,411.11C297.63,415.38 298.97,419.70 300.30,424.09C301.63,428.49 302.97,432.94 304.30,437.47C305.63,441.99 306.97,446.58 308.30,451.24C309.63,455.90 310.97,460.62 312.30,465.42C313.63,470.22 314.97,475.01 316.30,480.02C317.63,485.03 318.97,491.03 320.30,495.48C321.63,499.93 322.97,503.59 324.30,506.70C325.63,509.81 326.97,512.21 328.30,514.15C329.63,516.08 330.97,517.36 332.30,518.33C333.63,519.31 334.97,519.64 336.30,520.00C337.63,520.37 338.97,520.42 340.30,520.51C341.63,520.60 342.97,520.58 344.30,520.54C345.63,520.49 346.97,520.37 348.30,520.23C349.63,520.09 350.97,519.90 352.30,519.71C353.63,519.53 354.97,519.31 356.30,519.12C357.63,518.92 358.97,518.72 360.30,518.56C361.63,518.41 362.97,518.26 364.30,518.18C365.63,518.11 366.97,518.08 368.30,518.09C369.63,518.10 370.97,518.18 372.30,518.27C373.63,518.36 374.97,518.50 376.30,518.64C377.63,518.79 378.97,518.97 380.30,519.14C381.63,519.31 382.97,519.51 384.30,519.69C385.63,519.86 386.97,520.05 388.30,520.20C389.63,520.36 390.97,520.51 392.30,520.62C393.63,520.72 394.97,520.82 396.30,520.85C397.63,520.89 398.97,520.90 400.30,520.84C401.63,520.78 402.97,520.66 404.30,520.49C405.63,520.32 406.97,520.06 408.30,519.83C409.63,519.60 410.97,519.30 412.30,519.11C413.63,518.91 414.73,518.66 416.30,518.65C417.87,518.63 420.80,518.95 421.70,519.01" stroke="#00aaaa"/>
<path d="M85.00,39.50L98.20,39.90L98.60,43.60L155.20,46.70L156.00,53.00L180.50,56.20L181.20,71.00L189.70,76.30L190.70,124.80L205.50,144.20L206.30,223.00C206.97,224.31 208.97,228.25 210.30,230.87C211.63,233.50 212.97,236.12 214.30,238.76C215.63,241.40 216.97,244.05 218.30,246.72C219.63,249.39 220.97,252.08 222.30,254.80C223.63,257.52 224.97,260.26 226.30,263.05C227.63,265.83 228.97,268.65 230.30,271.52C231.63,274.39 232.97,277.29 234.30,280.26C235.63,283.23 236.97,286.24 238.30,289.32C239.63,292.41 240.97,295.54 242.30,298.76C243.63,301.98 244.97,305.26 246.30,308.62C247.63,311.99 248.97,315.43 250.30,318.96C251.63,322.49 252.97,326.11 254.30,329.80C255.63,333.48 256.97,337.26 258.30,341.08C259.63,344.91 260.97,348.81 262.30,352.76C263.63,356.70 264.97,360.71 266.30,364.75C267.63,368.79 268.97,372.87 270.30,377.00C271.63,381.13 272.97,385.29 274.30,389.52C275.63,393.75 276.97,398.03 278.30,402.36C279.63,406.70 280.97,411.10 282.30,415.54C283.63,419.97 284.97,424.46 286.30,428.97C287.63,433.48 288.97,438.04 290.30,442.59C291.63,447.14 292.47,450.06 294.30,456.29C296.13,462.53 299.47,473.45 301.30,480.02C303.13,486.59 303.97,491.21 305.30,495.73C306.63,500.25 307.97,503.93 309.30,507.12C310.63,510.31 311.97,512.78 313.30,514.88C314.63,516.98 315.97,518.48 317.30,519.73C318.63,520.97 319.97,521.74 321.30,522.35C322.63,522.95 323.97,523.20 325.30,523.37C326.63,523.54 327.97,523.45 329.30,523.37C330.63,523.29 331.97,523.08 333.30,522.91C334.63,522.74 335.97,522.53 337.30,522.35C338.63,522.18 339.97,521.98 341.30,521.85C342.63,521.72 343.97,521.61 345.30,521.56C346.63,521.51 347.97,521.52 349.30,521.55C350.63,521.59 351.97,521.67 353.30,521.78C354.63,521.89 355.97,522.03 357.30,522.19C358.63,522.35 359.97,522.55 361.30,522.74C362.63,522.94 363.97,523.16 365.30,523.38C366.63,523.60 367.97,523.83 369.30,524.05C370.63,524.27 371.97,524.49 373.30,524.69C374.63,524.90 375.97,525.10 377.30,525.27C378.63,525.45 379.97,525.61 381.30,525.73C382.63,525.86 383.97,525.96 385.30,526.02C386.63,526.08 387.68,526.14 389.30,526.09C390.92,526.03 394.05,525.76 395.00,525.69L395.20,520.60C396.67,520.52 401.78,520.18 404.00,520.10C406.22,520.02 405.65,520.27 408.50,520.10C411.35,519.93 418.90,519.28 421.10,519.10C423.30,518.92 421.60,519.02 421.70,519.00L421.90,513.90C423.85,513.68 429.57,512.97 433.60,512.60C437.63,512.23 442.55,511.85 446.10,511.70C449.65,511.55 453.20,511.70 454.90,511.70C456.60,511.70 456.07,511.70 456.30,511.70L456.40,503.60C458.87,503.53 466.65,503.20 471.20,503.20C475.75,503.20 478.90,503.67 483.70,503.60C488.50,503.53 496.08,502.97 500.00,502.80C503.92,502.63 506.00,502.63 507.20,502.60L507.30,492.59C507.97,492.58 509.97,492.57 511.30,492.53C512.63,492.49 513.97,492.43 515.30,492.35C516.63,492.28 517.97,492.18 519.30,492.07C520.63,491.96 521.97,491.84 523.30,491.71C524.63,491.57 525.97,491.42 527.30,491.27C528.63,491.11 529.97,490.95 531.30,490.78C532.63,490.61 533.97,490.43 535.30,490.25C536.63,490.07 537.97,489.88 539.30,489.70C540.63,489.51 541.97,489.32 543.30,489.14C544.63,488.95 545.97,488.77 547.30,488.59C548.63,488.41 549.97,488.23 551.30,488.06C552.63,487.90 553.97,487.73 555.30,487.58C556.63,487.43 557.97,487.28 559.30,487.15C560.63,487.02 561.97,486.90 563.30,486.80C564.63,486.69 565.97,486.60 567.30,486.53C568.63,486.46 569.97,486.40 571.30,486.37C572.63,486.34 573.97,486.32 575.30,486.33C576.63,486.34 577.97,486.36 579.30,486.42C580.63,486.48 581.97,486.56 583.30,486.67C584.63,486.78 585.77,486.88 587.30,487.08C588.83,487.28 591.63,487.76 592.50,487.89L592.80,472.60C593.47,472.50 595.47,472.11 596.80,471.97C598.13,471.83 599.47,471.78 600.80,471.77C602.13,471.76 603.47,471.82 604.80,471.90C606.13,471.99 607.47,472.13 608.80,472.27C610.13,472.41 611.47,472.59 612.80,472.76C614.13,472.93 615.47,473.12 616.80,473.29C618.13,473.45 619.47,473.62 620.80,473.75C622.13,473.87 623.47,473.98 624.80,474.03C626.13,474.09 627.47,474.10 628.80,474.06C630.13,474.01 631.47,473.89 632.80,473.74C634.13,473.58 635.47,473.37 636.80,473.12C638.13,472.87 639.47,472.58 640.80,472.26C642.13,471.95 643.47,471.59 644.80,471.22C646.13,470.85 647.47,470.46 648.80,470.06C650.13,469.66 651.47,469.24 652.80,468.83C654.13,468.43 655.47,468.01 656.80,467.61C658.13,467.21 659.47,466.81 660.80,466.44C662.13,466.07 663.47,465.70 664.80,465.38C666.13,465.06 667.47,464.76 668.80,464.50C670.13,464.25 671.47,464.03 672.80,463.86C674.13,463.70 675.47,463.58 676.80,463.51C678.13,463.44 679.47,463.43 680.80,463.43C682.13,463.43 683.47,463.48 684.80,463.52C686.13,463.56 687.47,463.62 688.80,463.66C690.13,463.69 691.47,463.74 692.80,463.73C694.13,463.73 695.47,463.71 696.80,463.63C698.13,463.55 699.47,463.43 700.80,463.24C702.13,463.05 703.47,462.79 704.80,462.49C706.13,462.19 707.47,461.82 708.80,461.41C710.13,461.00 711.47,460.54 712.80,460.04C714.13,459.54 715.47,458.99 716.80,458.41C718.13,457.84 719.47,457.22 720.80,456.58C722.13,455.94 723.47,455.26 724.80,454.58C726.13,453.90 727.47,453.19 728.80,452.49C730.13,451.79 731.47,451.07 732.80,450.37C734.13,449.68 735.47,448.97 736.80,448.30C738.13,447.62 739.47,446.95 740.80,446.33C742.13,445.70 743.47,445.09 744.80,444.53C746.13,443.97 747.47,443.45 748.80,442.98C750.13,442.51 751.47,442.09 752.80,441.71C754.13,441.33 755.47,440.99 756.80,440.70C758.13,440.40 759.18,440.18 760.80,439.93C762.42,439.68 765.55,439.33 766.50,439.21L767.00,432.10C768.73,431.23 773.57,428.60 777.40,426.90C781.23,425.20 785.82,423.20 790.00,421.90C794.18,420.60 798.72,419.83 802.50,419.10C806.28,418.37 811.00,417.77 812.70,417.50" stroke="#000000"/>

</g>
<g stroke="#000" stroke-width="2" fill="none">
<line x1="85.1" y1="3" x2="85.1" y2="571" stroke-width="2.1"/>
<line x1="69.8" y1="560.2" x2="827" y2="560.2"/>
<line x1="94.60" y1="560.2" x2="94.60" y2="555.8" stroke-width="1.5"/><line x1="114.00" y1="560.2" x2="114.00" y2="555.8" stroke-width="1.5"/><line x1="133.40" y1="560.2" x2="133.40" y2="552.6"/><line x1="152.80" y1="560.2" x2="152.80" y2="555.8" stroke-width="1.5"/><line x1="172.20" y1="560.2" x2="172.20" y2="555.8" stroke-width="1.5"/><line x1="191.60" y1="560.2" x2="191.60" y2="555.8" stroke-width="1.5"/><line x1="211.00" y1="560.2" x2="211.00" y2="555.8" stroke-width="1.5"/><line x1="230.40" y1="560.2" x2="230.40" y2="552.6"/><line x1="249.80" y1="560.2" x2="249.80" y2="555.8" stroke-width="1.5"/><line x1="269.20" y1="560.2" x2="269.20" y2="555.8" stroke-width="1.5"/><line x1="288.60" y1="560.2" x2="288.60" y2="555.8" stroke-width="1.5"/><line x1="308.00" y1="560.2" x2="308.00" y2="555.8" stroke-width="1.5"/><line x1="327.40" y1="560.2" x2="327.40" y2="552.6"/><line x1="346.80" y1="560.2" x2="346.80" y2="555.8" stroke-width="1.5"/><line x1="366.20" y1="560.2" x2="366.20" y2="555.8" stroke-width="1.5"/><line x1="385.60" y1="560.2" x2="385.60" y2="555.8" stroke-width="1.5"/><line x1="405.00" y1="560.2" x2="405.00" y2="555.8" stroke-width="1.5"/><line x1="424.40" y1="560.2" x2="424.40" y2="552.6"/><line x1="443.80" y1="560.2" x2="443.80" y2="555.8" stroke-width="1.5"/><line x1="463.20" y1="560.2" x2="463.20" y2="555.8" stroke-width="1.5"/><line x1="482.60" y1="560.2" x2="482.60" y2="555.8" stroke-width="1.5"/><line x1="502.00" y1="560.2" x2="502.00" y2="555.8" stroke-width="1.5"/><line x1="521.40" y1="560.2" x2="521.40" y2="552.6"/><line x1="540.80" y1="560.2" x2="540.80" y2="555.8" stroke-width="1.5"/><line x1="560.20" y1="560.2" x2="560.20" y2="555.8" stroke-width="1.5"/><line x1="579.60" y1="560.2" x2="579.60" y2="555.8" stroke-width="1.5"/><line x1="599.00" y1="560.2" x2="599.00" y2="555.8" stroke-width="1.5"/><line x1="618.40" y1="560.2" x2="618.40" y2="552.6"/><line x1="637.80" y1="560.2" x2="637.80" y2="555.8" stroke-width="1.5"/><line x1="657.20" y1="560.2" x2="657.20" y2="555.8" stroke-width="1.5"/><line x1="676.60" y1="560.2" x2="676.60" y2="555.8" stroke-width="1.5"/><line x1="696.00" y1="560.2" x2="696.00" y2="555.8" stroke-width="1.5"/><line x1="715.40" y1="560.2" x2="715.40" y2="552.6"/><line x1="734.80" y1="560.2" x2="734.80" y2="555.8" stroke-width="1.5"/><line x1="754.20" y1="560.2" x2="754.20" y2="555.8" stroke-width="1.5"/><line x1="773.60" y1="560.2" x2="773.60" y2="555.8" stroke-width="1.5"/><line x1="793.00" y1="560.2" x2="793.00" y2="555.8" stroke-width="1.5"/><line x1="812.40" y1="560.2" x2="812.40" y2="552.6"/><line x1="85" y1="26.90" x2="92.6" y2="26.90"/><line x1="85" y1="103.05" x2="92.6" y2="103.05"/><line x1="85" y1="80.13" x2="88.8" y2="80.13" stroke-width="1.5"/><line x1="85" y1="66.72" x2="88.8" y2="66.72" stroke-width="1.5"/><line x1="85" y1="57.20" x2="88.8" y2="57.20" stroke-width="1.5"/><line x1="85" y1="49.82" x2="88.8" y2="49.82" stroke-width="1.5"/><line x1="85" y1="43.79" x2="88.8" y2="43.79" stroke-width="1.5"/><line x1="85" y1="38.70" x2="88.8" y2="38.70" stroke-width="1.5"/><line x1="85" y1="34.28" x2="88.8" y2="34.28" stroke-width="1.5"/><line x1="85" y1="30.38" x2="88.8" y2="30.38" stroke-width="1.5"/><line x1="85" y1="179.20" x2="92.6" y2="179.20"/><line x1="85" y1="156.28" x2="88.8" y2="156.28" stroke-width="1.5"/><line x1="85" y1="142.87" x2="88.8" y2="142.87" stroke-width="1.5"/><line x1="85" y1="133.35" x2="88.8" y2="133.35" stroke-width="1.5"/><line x1="85" y1="125.97" x2="88.8" y2="125.97" stroke-width="1.5"/><line x1="85" y1="119.94" x2="88.8" y2="119.94" stroke-width="1.5"/><line x1="85" y1="114.85" x2="88.8" y2="114.85" stroke-width="1.5"/><line x1="85" y1="110.43" x2="88.8" y2="110.43" stroke-width="1.5"/><line x1="85" y1="106.53" x2="88.8" y2="106.53" stroke-width="1.5"/><line x1="85" y1="255.35" x2="92.6" y2="255.35"/><line x1="85" y1="232.43" x2="88.8" y2="232.43" stroke-width="1.5"/><line x1="85" y1="219.02" x2="88.8" y2="219.02" stroke-width="1.5"/><line x1="85" y1="209.50" x2="88.8" y2="209.50" stroke-width="1.5"/><line x1="85" y1="202.12" x2="88.8" y2="202.12" stroke-width="1.5"/><line x1="85" y1="196.09" x2="88.8" y2="196.09" stroke-width="1.5"/><line x1="85" y1="191.00" x2="88.8" y2="191.00" stroke-width="1.5"/><line x1="85" y1="186.58" x2="88.8" y2="186.58" stroke-width="1.5"/><line x1="85" y1="182.68" x2="88.8" y2="182.68" stroke-width="1.5"/><line x1="85" y1="331.50" x2="92.6" y2="331.50"/><line x1="85" y1="308.58" x2="88.8" y2="308.58" stroke-width="1.5"/><line x1="85" y1="295.17" x2="88.8" y2="295.17" stroke-width="1.5"/><line x1="85" y1="285.65" x2="88.8" y2="285.65" stroke-width="1.5"/><line x1="85" y1="278.27" x2="88.8" y2="278.27" stroke-width="1.5"/><line x1="85" y1="272.24" x2="88.8" y2="272.24" stroke-width="1.5"/><line x1="85" y1="267.15" x2="88.8" y2="267.15" stroke-width="1.5"/><line x1="85" y1="262.73" x2="88.8" y2="262.73" stroke-width="1.5"/><line x1="85" y1="258.83" x2="88.8" y2="258.83" stroke-width="1.5"/><line x1="85" y1="407.65" x2="92.6" y2="407.65"/><line x1="85" y1="384.73" x2="88.8" y2="384.73" stroke-width="1.5"/><line x1="85" y1="371.32" x2="88.8" y2="371.32" stroke-width="1.5"/><line x1="85" y1="361.80" x2="88.8" y2="361.80" stroke-width="1.5"/><line x1="85" y1="354.42" x2="88.8" y2="354.42" stroke-width="1.5"/><line x1="85" y1="348.39" x2="88.8" y2="348.39" stroke-width="1.5"/><line x1="85" y1="343.30" x2="88.8" y2="343.30" stroke-width="1.5"/><line x1="85" y1="338.88" x2="88.8" y2="338.88" stroke-width="1.5"/><line x1="85" y1="334.98" x2="88.8" y2="334.98" stroke-width="1.5"/><line x1="85" y1="483.80" x2="92.6" y2="483.80"/><line x1="85" y1="460.88" x2="88.8" y2="460.88" stroke-width="1.5"/><line x1="85" y1="447.47" x2="88.8" y2="447.47" stroke-width="1.5"/><line x1="85" y1="437.95" x2="88.8" y2="437.95" stroke-width="1.5"/><line x1="85" y1="430.57" x2="88.8" y2="430.57" stroke-width="1.5"/><line x1="85" y1="424.54" x2="88.8" y2="424.54" stroke-width="1.5"/><line x1="85" y1="419.45" x2="88.8" y2="419.45" stroke-width="1.5"/><line x1="85" y1="415.03" x2="88.8" y2="415.03" stroke-width="1.5"/><line x1="85" y1="411.13" x2="88.8" y2="411.13" stroke-width="1.5"/><line x1="85" y1="537.03" x2="88.8" y2="537.03" stroke-width="1.5"/><line x1="85" y1="523.62" x2="88.8" y2="523.62" stroke-width="1.5"/><line x1="85" y1="514.10" x2="88.8" y2="514.10" stroke-width="1.5"/><line x1="85" y1="506.72" x2="88.8" y2="506.72" stroke-width="1.5"/><line x1="85" y1="500.69" x2="88.8" y2="500.69" stroke-width="1.5"/><line x1="85" y1="495.60" x2="88.8" y2="495.60" stroke-width="1.5"/><line x1="85" y1="491.18" x2="88.8" y2="491.18" stroke-width="1.5"/><line x1="85" y1="487.28" x2="88.8" y2="487.28" stroke-width="1.5"/>
</g>
<g><line x1="680" y1="43.90" x2="757" y2="43.90" stroke="#0000ff" stroke-width="2"/><line x1="680" y1="81.26" x2="757" y2="81.26" stroke="#ff0000" stroke-width="2"/><line x1="680" y1="118.62" x2="757" y2="118.62" stroke="#00aa00" stroke-width="2"/><line x1="680" y1="155.98" x2="757" y2="155.98" stroke="#800080" stroke-width="2"/><line x1="680" y1="193.34" x2="757" y2="193.34" stroke="#ff8000" stroke-width="2"/><line x1="680" y1="230.70" x2="757" y2="230.70" stroke="#0000aa" stroke-width="2"/><line x1="680" y1="268.06" x2="757" y2="268.06" stroke="#00aaaa" stroke-width="2"/><line x1="680" y1="305.42" x2="757" y2="305.42" stroke="#000000" stroke-width="2"/></g>
<!-- x axis label glyphs -->
<g fill="none" stroke="#000" stroke-linecap="butt" stroke-linejoin="round">
<path d="M369.7,594.2 L366.1,605.8 Q364.8,610.3 369.3,610.3 L374.7,610.3" stroke-width="1.8"/>
<path d="M362.9,598.2 L374.8,598.2" stroke-width="1.4"/>
<path d="M412.6,594.2 L409,605.8 Q407.7,610.3 412.2,610.3 L417.6,610.3" stroke-width="1.8"/>
<path d="M405.8,598.2 L417.7,598.2" stroke-width="1.4"/>
<path d="M375.3,606.4 L379.7,606.4" stroke-width="1.5"/>
<path d="M379.7,605.6 L379.7,614.4" stroke-width="2.1"/>
<path d="M379.6,601.2 L379.6,603.8" stroke-width="2.5"/>
<path d="M387.8,604.6 L398.4,604.6" stroke-width="1.1"/>
<path d="M481,610.5 L484.9,593.6 L487.8,605.4 L494.9,593.6 L491.1,610.5" stroke-width="1.6" stroke-linejoin="miter"/>
</g>
<g fill="none" stroke="#6a6a6a" stroke-width="1.4">
<path d="M473.9,595 L469.7,595 L469.7,614.3 L473.9,614.3"/>
<path d="M499,595 L503.2,595 L503.2,614.3 L499,614.3"/>
</g>
<!-- y axis label glyphs -->
<g fill="none" stroke="#000" stroke-linecap="round" stroke-linejoin="round">
<path d="M3.1,252.3 Q16.2,242.6 29.9,252" stroke-width="1.2"/>
<path d="M3.1,285.3 Q16.2,294.7 29.9,285.6" stroke-width="1.2"/>
<path d="M0,270.1 L23.3,275.7" stroke-width="2.2" stroke-linecap="butt"/>
<path d="M10.5,272.4 Q5,266 9.5,261.8 Q11,260.8 14,261.9 L23.3,264.4" stroke-width="2.2" stroke-linecap="butt"/>
<path d="M24.9,351.6 Q22.5,346.5 13.6,342.7 L4.7,337.5 Q13.6,335.6 23.6,337 L4.7,320.2 Q13.6,324.2 19,324.8 Q22.5,325.2 23.9,324.3" stroke-width="1.4"/>
</g>
</svg>
<div class="yl" style="top:15.15px">10<span class="sup">0</span></div>
<div class="yl" style="top:91.30px">10<span class="sup">−1</span></div>
<div class="yl" style="top:167.45px">10<span class="sup">−2</span></div>
<div class="yl" style="top:243.60px">10<span class="sup">−3</span></div>
<div class="yl" style="top:319.75px">10<span class="sup">−4</span></div>
<div class="yl" style="top:395.90px">10<span class="sup">−5</span></div>
<div class="yl" style="top:472.05px">10<span class="sup">−6</span></div>

<div class="xl" style="left:103.40px">−20</div>
<div class="xl" style="left:200.40px">−10</div>
<div class="xl" style="left:299.90px">0</div>
<div class="xl" style="left:394.40px">10</div>
<div class="xl" style="left:491.40px">20</div>
<div class="xl" style="left:588.40px">30</div>
<div class="xl" style="left:685.40px">40</div>
<div class="xl" style="left:782.40px">50</div>

<div class="lg" style="top:28.70px"><i>N</i> = 0</div>
<div class="lg" style="top:66.06px"><i>N</i> = 1</div>
<div class="lg" style="top:103.42px"><i>N</i> = 2</div>
<div class="lg" style="top:140.78px"><i>N</i> = 3</div>
<div class="lg" style="top:178.14px"><i>N</i> = 4</div>
<div class="lg" style="top:215.50px"><i>N</i> = 5</div>
<div class="lg" style="top:252.86px"><i>N</i> = 6</div>
<div class="lg" style="top:290.22px"><i>N</i> = 7</div>

<div class="pk">peak</div>
</body></html>
